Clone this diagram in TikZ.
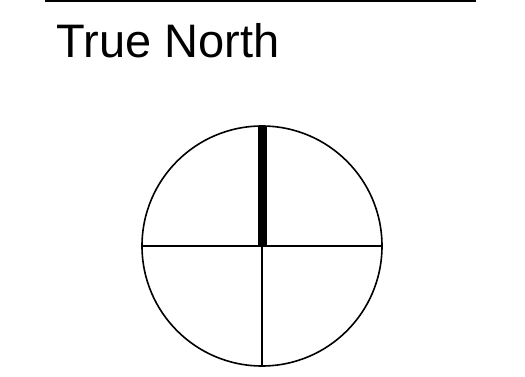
\documentclass[tikz,border=0pt]{standalone}
\usepackage{fontspec}
\setmainfont{Liberation Sans}
\usetikzlibrary{calc}

\begin{document}
\begin{tikzpicture}[x=1pt,y=-1pt,line width=1.6pt]
  \useasboundingbox (0,0) rectangle (525,377);
  \coordinate (L) at (45,0.8);
  \coordinate (R) at (476,0.8);
  \coordinate (O) at (262,246);
  \coordinate (N) at (262,126);
  \coordinate (S) at (262,366);
  \coordinate (W) at (142,246);
  \coordinate (E) at (382,246);
  \draw (L)--(R);
  \node[anchor=base west,inner sep=0pt,font=\fontsize{47}{47}\selectfont] (title) at (56,58) {True North};
  \draw (O) circle (120);
  \draw (W)--(E);
  \draw (O)--(S);
  \draw[line width=9pt] (N)--(O);
\end{tikzpicture}
\end{document}
